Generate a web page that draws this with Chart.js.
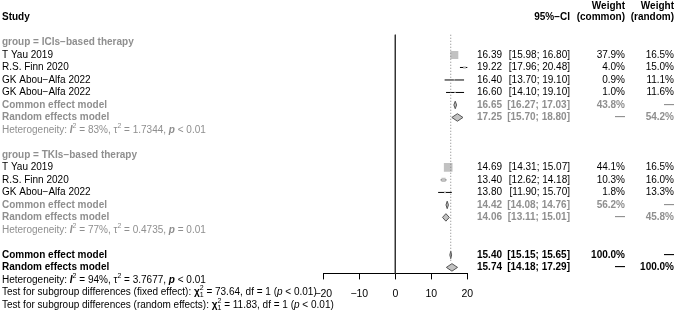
<!DOCTYPE html>
<html>
<head>
<meta charset="utf-8">
<script src="https://cdn.jsdelivr.net/npm/chart.js@4.4.1/dist/chart.umd.min.js"></script>
<style>
  html, body { margin: 0; padding: 0; background: #fff; }
</style>
</head>
<body>
<canvas id="forest" width="676" height="311"></canvas>
<script>
// study level data
const studyNames = ['T Yau 2019', 'R.S. Finn 2020', 'GK Abou−Alfa 2022', 'GK Abou−Alfa 2022', 'T Yau 2019', 'R.S. Finn 2020', 'GK Abou−Alfa 2022'];
const studyRows = [1, 2, 3, 4, 10, 11, 12];
const studyEst = [16.39, 19.22, 16.40, 16.60, 14.69, 13.40, 13.80];
const studyLower = [15.98, 17.96, 13.70, 14.10, 14.31, 12.62, 11.90];
const studyUpper = [16.80, 20.48, 19.10, 19.10, 15.07, 14.18, 15.70];
const weightCommon = [37.9, 4.0, 0.9, 1.0, 44.1, 10.3, 1.8];
const weightRandom = [16.5, 15.0, 11.1, 11.6, 16.5, 16.0, 13.3];

// subgroups
const groupNames = ['group = ICIs−based therapy', 'group = TKIs−based therapy'];
const groupRows = [0, 9];

// pooled estimates (subgroups + overall)
const modelNames = ['Common effect model', 'Random effects model', 'Common effect model', 'Random effects model', 'Common effect model', 'Random effects model'];
const modelRows = [5, 6, 13, 14, 17, 18];
const modelEst = [16.65, 17.25, 14.42, 14.06, 15.40, 15.74];
const modelLower = [16.27, 15.70, 14.08, 13.11, 15.15, 14.18];
const modelUpper = [17.03, 18.80, 14.76, 15.01, 15.65, 17.29];
const modelWeightCommon = [43.8, null, 56.2, null, 100.0, null];
const modelWeightRandom = [null, 54.2, null, 45.8, null, 100.0];
const modelOverall = [false, false, false, false, true, true];

// heterogeneity lines
const hetRows = [7, 15, 19];
const hetI2 = ['83%', '77%', '94%'];
const hetTau2 = ['1.7344', '0.4735', '3.7677'];
const hetP = ['< 0.01', '= 0.01', '< 0.01'];
const hetOverall = [false, false, true];

// subgroup tests
const testRows = [20, 21];
const testLabels = ['Test for subgroup differences (fixed effect): ', 'Test for subgroup differences (random effects): '];
const testChi2 = ['73.64', '11.83'];

const xTicks = [-20, -10, 0, 10, 20];

const FONT = "'Liberation Sans', Arial, Helvetica, sans-serif";
const SIZE = 10;
const GREY = '#8f8f8f';
const BOX = '#c2c2c2';

function font(style, size) { return style + ' ' + size + 'px ' + FONT; }

function drawRich(ctx, x, y, parts, color) {
  ctx.textAlign = 'left';
  ctx.textBaseline = 'middle';
  ctx.fillStyle = color;
  let cx = x;
  parts.forEach(p => {
    const small = p.sup || p.sub;
    ctx.font = font(p.style || 'normal', small ? SIZE * 0.7 : SIZE);
    const dy = p.sup ? -4 : (p.sub ? 3 : 0);
    ctx.fillText(p.t, cx, y + dy);
    if (!p.stack) cx += ctx.measureText(p.t).width;
  });
}

function txt(ctx, s, x, y, align, style, color) {
  ctx.font = font(style, SIZE);
  ctx.textAlign = align;
  ctx.textBaseline = 'middle';
  ctx.fillStyle = color;
  ctx.fillText(s, x, y);
}

const fmt = v => v.toFixed(2);
const pct = v => v == null ? '—' : v.toFixed(1) + '%';

const COL_EST = 502, COL_CI = 570, COL_WC = 625, COL_WR = 674;

const textPlugin = {
  id: 'forestText',
  afterDraw(chart) {
    const ctx = chart.ctx;
    const Y = r => chart.scales.y.getPixelForValue(r);
    ctx.save();

    // header
    txt(ctx, 'Weight', COL_WC, Y(-2.9), 'right', 'bold', '#000');
    txt(ctx, 'Weight', COL_WR, Y(-2.9), 'right', 'bold', '#000');
    txt(ctx, 'Study', 2, Y(-2), 'left', 'bold', '#000');
    txt(ctx, '95%−CI', COL_CI, Y(-2), 'right', 'bold', '#000');
    txt(ctx, '(common)', COL_WC, Y(-2), 'right', 'bold', '#000');
    txt(ctx, '(random)', COL_WR, Y(-2), 'right', 'bold', '#000');

    groupNames.forEach((g, i) => txt(ctx, g, 2, Y(groupRows[i]), 'left', 'bold', GREY));

    studyNames.forEach((s, i) => {
      const y = Y(studyRows[i]);
      txt(ctx, s, 2, y, 'left', 'normal', '#000');
      txt(ctx, fmt(studyEst[i]), COL_EST, y, 'right', 'normal', '#000');
      txt(ctx, '[' + fmt(studyLower[i]) + '; ' + fmt(studyUpper[i]) + ']', COL_CI, y, 'right', 'normal', '#000');
      txt(ctx, pct(weightCommon[i]), COL_WC, y, 'right', 'normal', '#000');
      txt(ctx, pct(weightRandom[i]), COL_WR, y, 'right', 'normal', '#000');
    });

    modelNames.forEach((m, i) => {
      const y = Y(modelRows[i]);
      const c = modelOverall[i] ? '#000' : GREY;
      txt(ctx, m, 2, y, 'left', 'bold', c);
      txt(ctx, fmt(modelEst[i]), COL_EST, y, 'right', 'bold', c);
      txt(ctx, '[' + fmt(modelLower[i]) + '; ' + fmt(modelUpper[i]) + ']', COL_CI, y, 'right', 'bold', c);
      txt(ctx, pct(modelWeightCommon[i]), COL_WC, y, 'right', 'bold', c);
      txt(ctx, pct(modelWeightRandom[i]), COL_WR, y, 'right', 'bold', c);
    });

    hetRows.forEach((r, i) => {
      drawRich(ctx, 2, Y(r), [
        { t: 'Heterogeneity: ' },
        { t: 'I', style: 'italic bold' },
        { t: '2', sup: true },
        { t: ' = ' + hetI2[i] + ', τ' },
        { t: '2', sup: true },
        { t: ' = ' + hetTau2[i] + ', ' },
        { t: 'p', style: 'italic bold' },
        { t: ' ' + hetP[i] }
      ], hetOverall[i] ? '#000' : GREY);
    });

    testRows.forEach((r, i) => {
      drawRich(ctx, 2, Y(r), [
        { t: testLabels[i] },
        { t: 'χ', style: 'bold' },
        { t: '2', sup: true, stack: true },
        { t: '1', sub: true },
        { t: ' = ' + testChi2[i] + ', df = 1 (' },
        { t: 'p', style: 'italic' },
        { t: ' < 0.01)' }
      ], '#000');
    });

    ctx.restore();
  }
};

const datasets = [];

// line of no effect and common effect line
datasets.push({ data: [{ x: 0, y: -0.62 }, { x: 0, y: 18.6 }], showLine: true, borderColor: '#333', borderWidth: 1, pointRadius: 0 });
datasets.push({ data: [{ x: modelEst[4], y: -0.62 }, { x: modelEst[4], y: 17.5 }], showLine: true, borderColor: '#808080', borderWidth: 1, borderDash: [1, 2], pointRadius: 0 });

// study boxes, side grows with sqrt(weight)
const boxSide = weightCommon.map(w => 1.3 * Math.sqrt(w));
datasets.push({
  data: studyEst.map((v, i) => ({ x: v, y: studyRows[i] })),
  pointStyle: 'rect',
  pointRadius: boxSide.map(s => s / Math.SQRT2),
  backgroundColor: BOX,
  borderWidth: 0
});

// confidence intervals (white when the interval sits inside its box)
studyEst.forEach((v, i) => {
  datasets.push({
    data: [{ x: studyLower[i], y: studyRows[i] }, { x: studyUpper[i], y: studyRows[i] }],
    showLine: true,
    pointRadius: 0,
    borderWidth: 1,
    borderColor: function (context) {
      const sx = context.chart.scales.x;
      if (!sx) return '#000';
      const w = sx.getPixelForValue(studyUpper[i]) - sx.getPixelForValue(studyLower[i]);
      return w < boxSide[i] ? '#fff' : '#000';
    }
  });
});

// diamonds
modelEst.forEach((m, i) => {
  const r = modelRows[i], h = 0.3;
  datasets.push({
    data: [
      { x: modelLower[i], y: r }, { x: m, y: r - h }, { x: modelUpper[i], y: r },
      { x: m, y: r + h }, { x: modelLower[i], y: r }
    ],
    showLine: true,
    fill: 'shape',
    backgroundColor: BOX,
    borderColor: '#555',
    borderWidth: 1,
    pointRadius: 0
  });
});

new Chart(document.getElementById('forest').getContext('2d'), {
  type: 'scatter',
  data: { datasets },
  options: {
    responsive: false,
    animation: false,
    devicePixelRatio: 1,
    layout: { autoPadding: false, padding: { left: 323.3, right: 208.7, top: 0, bottom: 3 } },
    plugins: { legend: { display: false }, tooltip: { enabled: false } },
    scales: {
      x: {
        type: 'linear',
        min: -20,
        max: 20,
        afterBuildTicks: axis => { axis.ticks = xTicks.map(v => ({ value: v })); },
        border: { display: true, color: '#000', width: 1 },
        grid: { display: true, drawOnChartArea: false, drawTicks: true, tickLength: 6, color: '#000' },
        ticks: {
          padding: 8,
          color: '#000',
          font: { family: FONT, size: 10.5 },
          maxRotation: 0,
          callback: v => String(v).replace('-', '−')
        }
      },
      y: {
        type: 'linear',
        display: false,
        reverse: true,
        min: -3.4,
        max: 18.48
      }
    }
  },
  plugins: [textPlugin]
});
</script>
</body>
</html>
